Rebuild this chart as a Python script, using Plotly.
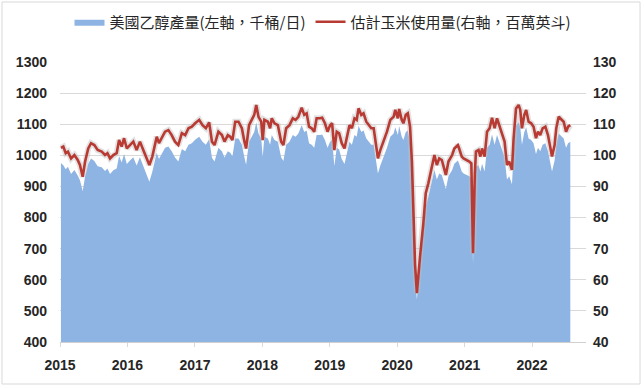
import plotly.graph_objects as go

dates = [
    "2015-01-06","2015-01-19","2015-02-01","2015-02-13","2015-03-02","2015-03-20","2015-04-07","2015-04-19",
    "2015-05-04","2015-05-17","2015-06-03","2015-06-18","2015-07-06","2015-07-24","2015-08-15","2015-09-02",
    "2015-09-15","2015-09-29","2015-10-17","2015-11-04","2015-11-17","2015-12-01","2015-12-14","2015-12-29",
    "2016-01-15","2016-02-02","2016-02-20","2016-03-09","2016-03-27","2016-04-15","2016-04-29","2016-05-15",
    "2016-05-30","2016-06-08","2016-06-20","2016-07-08","2016-07-23","2016-08-10","2016-08-28","2016-09-15",
    "2016-10-03","2016-10-22","2016-11-09","2016-11-27","2016-12-15",
    "2017-01-02","2017-01-24","2017-02-11","2017-03-01","2017-03-19","2017-04-03","2017-04-17","2017-05-08",
    "2017-05-27","2017-06-10","2017-06-28","2017-07-11","2017-07-23","2017-08-07","2017-08-25","2017-09-12",
    "2017-09-26","2017-10-05","2017-10-21","2017-11-05","2017-11-18","2017-11-29","2017-12-11","2017-12-26",
    "2018-01-03","2018-01-12","2018-01-31","2018-02-12","2018-02-21","2018-03-08","2018-03-26","2018-04-13",
    "2018-04-25","2018-05-10","2018-05-28","2018-06-15","2018-06-30","2018-07-15","2018-08-02","2018-08-16",
    "2018-08-29","2018-09-11","2018-09-25","2018-10-09","2018-10-22","2018-11-09","2018-11-21","2018-12-06",
    "2018-12-20",
    "2019-01-03","2019-01-14","2019-01-26","2019-02-08","2019-02-21","2019-03-07","2019-03-22","2019-04-04",
    "2019-04-18","2019-05-01","2019-05-15","2019-05-27","2019-06-06","2019-06-21","2019-07-03","2019-07-18",
    "2019-07-30","2019-08-14","2019-08-27","2019-09-08","2019-09-19","2019-10-02","2019-10-20","2019-11-07",
    "2019-11-25","2019-12-13","2019-12-22",
    "2020-01-05","2020-01-12","2020-01-26","2020-02-04","2020-02-17","2020-02-28","2020-03-11","2020-03-21",
    "2020-03-30","2020-04-07","2020-04-17","2020-04-25","2020-05-04","2020-05-22","2020-06-04","2020-06-18",
    "2020-07-07","2020-07-21","2020-08-03","2020-08-16","2020-08-30","2020-09-21","2020-10-05","2020-10-14",
    "2020-10-25","2020-11-06","2020-11-25","2020-12-02","2020-12-16","2020-12-26",
    "2021-01-13","2021-01-26","2021-02-06","2021-02-15","2021-02-25","2021-03-03","2021-03-17","2021-03-27",
    "2021-04-05","2021-04-19","2021-05-02","2021-05-16","2021-05-29","2021-06-12","2021-06-25","2021-07-09",
    "2021-07-22","2021-08-05","2021-08-18","2021-08-30","2021-09-14","2021-09-23","2021-10-06","2021-10-20",
    "2021-10-29","2021-11-07","2021-11-20","2021-11-30","2021-12-13","2021-12-27",
    "2022-01-09","2022-01-22","2022-02-02","2022-02-14","2022-02-27","2022-03-14","2022-03-28","2022-04-10",
    "2022-04-19","2022-05-03","2022-05-12","2022-05-25","2022-06-08","2022-06-21","2022-07-04","2022-07-15",
    "2022-07-27",
]

ethanol_kbd = [
    975, 968, 955, 963, 940, 953, 935, 920, 885, 933, 973, 990, 982, 965, 962, 950,
    958, 940, 952, 958, 998, 977, 1004, 972,
    983, 994, 967, 994, 966, 940, 915, 947, 983, 1008, 988, 1008, 1024, 1028, 1013, 993,
    980, 1020, 1013, 1034, 1039,
    1050, 1060, 1044, 1034, 1052, 992, 980, 1024, 1013, 993, 1013, 1008, 997, 1054, 1054, 1034,
    993, 970, 1044, 1060, 1075, 1106, 1070, 1054,
    995, 1060, 1054, 1034, 1065, 1049, 1044, 993, 982, 1034, 1044, 1065, 1060, 1070, 1097, 1075,
    1080, 1039, 1034, 1024, 1065, 1065, 1067, 1049, 1024,
    1044, 1049, 966, 1024, 1019, 988, 972, 1003, 1044, 1034, 1065, 1060, 1095, 1075, 1080, 1054,
    1044, 1034, 1034, 983, 942, 967, 993, 1024, 1060, 1070, 1090,
    1065, 1094, 1060, 1049, 1075, 1080, 1039, 933, 780, 619, 537, 590, 641, 743, 836, 866,
    917, 953, 922, 942, 937, 892, 933, 942, 953, 973, 983, 973, 948, 942,
    938, 933, 927, 652, 898, 963, 968, 948, 973, 948, 1024, 1034, 1067, 1034, 1065, 1039,
    1019, 994, 922, 933, 907, 1004, 1095, 1106, 1090, 1034, 1075, 1090, 1054, 1049,
    1039, 1004, 1024, 1013, 1034, 1039, 1013, 972, 948, 983, 1034, 1070, 1060, 1054, 1024, 1039,
    1044,
]

corn_mbu = [
    102.4, 102.8, 100.7, 101.2, 99.0, 100.1, 98.5, 96.9, 93.1, 98.0, 102.2, 103.9, 103.3, 101.7, 101.2, 100.1,
    100.7, 99.0, 100.1, 100.7, 104.9, 102.8, 105.5, 102.2,
    103.3, 104.4, 101.7, 104.4, 101.7, 99.0, 96.9, 99.6, 103.3, 106.0, 103.9, 106.0, 107.6, 108.1, 106.5, 104.4,
    103.3, 107.1, 106.5, 108.7, 109.2,
    110.3, 111.4, 109.7, 108.7, 110.6, 104.4, 103.3, 107.6, 106.5, 104.4, 106.5, 106.0, 104.9, 110.8, 110.8, 108.7,
    104.4, 102.2, 109.7, 111.4, 113.0, 116.2, 112.4, 110.8,
    104.9, 111.4, 110.8, 108.7, 111.9, 110.3, 109.7, 104.4, 103.3, 108.7, 109.7, 111.9, 111.4, 112.4, 115.3, 113.0,
    113.5, 109.2, 108.7, 107.6, 111.9, 111.9, 112.1, 110.3, 107.6,
    109.7, 110.3, 101.7, 107.6, 107.1, 103.9, 102.2, 105.5, 109.7, 108.7, 111.9, 111.4, 115.1, 113.0, 113.5, 110.8,
    109.7, 108.7, 108.7, 103.3, 99.0, 101.7, 104.4, 107.6, 111.4, 112.4, 114.6,
    111.9, 114.9, 111.4, 110.3, 113.0, 113.5, 109.2, 98.0, 82.0, 65.0, 55.7, 62.0, 67.4, 78.1, 87.8, 91.0,
    96.3, 100.1, 96.9, 99.0, 98.5, 93.7, 98.0, 99.0, 100.1, 102.2, 103.3, 102.2, 99.6, 99.0,
    98.5, 98.0, 97.4, 68.5, 94.3, 101.2, 101.7, 99.6, 102.2, 99.6, 107.6, 108.7, 112.1, 108.7, 111.9, 109.2,
    107.1, 104.4, 96.9, 98.0, 95.3, 105.5, 115.1, 116.2, 114.6, 108.7, 113.0, 114.6, 110.8, 110.3,
    109.2, 105.5, 107.6, 106.5, 108.7, 109.2, 106.5, 102.2, 99.6, 103.3, 108.7, 112.4, 111.4, 110.8, 107.6, 109.2,
    109.7,
]

year_ticks = ["2015-01-01", "2016-01-01", "2017-01-01", "2018-01-01",
              "2019-01-01", "2020-01-01", "2021-01-01", "2022-01-01"]
year_labels = ["2015", "2016", "2017", "2018", "2019", "2020", "2021", "2022"]
left_ticks = [400, 500, 600, 700, 800, 900, 1000, 1100, 1200, 1300]
right_ticks = [40, 50, 60, 70, 80, 90, 100, 110, 120, 130]

name_eth = "美國乙醇產量(左軸，千桶/日)"
name_corn = "估計玉米使用量(右軸，百萬英斗)"

tick_font = dict(family="Liberation Sans, Arial, sans-serif", size=14, color="#262626", weight="bold")
cjk = "Noto Sans CJK TC, Noto Sans CJK SC, sans-serif"

fig = go.Figure()
fig.add_trace(go.Scatter(
    x=dates, y=ethanol_kbd, name=name_eth, mode="lines",
    line=dict(width=0, color="#8EB4E3"), fill="tozeroy", fillcolor="#8EB4E3",
    yaxis="y",
))
fig.add_trace(go.Scatter(
    x=dates, y=corn_mbu, mode="lines", showlegend=False, hoverinfo="skip",
    line=dict(width=6, color="rgba(190,190,190,0.45)"), yaxis="y2",
))
fig.add_trace(go.Scatter(
    x=dates, y=corn_mbu, name=name_corn, mode="lines",
    line=dict(width=2.6, color="#B93A32"), yaxis="y2",
))

fig.update_layout(
    width=644, height=389,
    margin=dict(l=60, r=58, t=62, b=47, autoexpand=False),
    paper_bgcolor="white", plot_bgcolor="white",
    showlegend=True,
    legend=dict(orientation="h", x=0.5, xanchor="center", y=1.143, yanchor="middle",
                font=dict(family=cjk, size=15, color="#262626"),
                bgcolor="rgba(0,0,0,0)", itemwidth=30, traceorder="normal"),
    xaxis=dict(type="date", range=["2015-01-01", "2022-10-20"],
               tickvals=year_ticks, ticktext=year_labels,
               showgrid=False, zeroline=False,
               showline=True, linecolor="#D0D0D0", linewidth=1,
               ticks="outside", ticklen=4, tickcolor="#D9D9D9",
               tickfont=tick_font, ticklabelstandoff=6),
    yaxis=dict(range=[400, 1300], tickvals=left_ticks,
               showgrid=True, gridcolor="#D9D9D9", gridwidth=1, zeroline=False,
               showline=False, ticks="", tickfont=tick_font, ticklabelstandoff=12),
    yaxis2=dict(range=[40, 130], tickvals=right_ticks, overlaying="y", side="right",
                showgrid=False, zeroline=False, showline=False, ticks="",
                tickfont=tick_font, ticklabelstandoff=6),
    shapes=[dict(type="rect", xref="paper", yref="paper",
                 x0=-0.1103, x1=1.1027, y0=-0.150, y1=1.2143,
                 line=dict(color="#D9D9D9", width=1), fillcolor="rgba(0,0,0,0)", layer="below")],
)

fig.write_html("out.html")
